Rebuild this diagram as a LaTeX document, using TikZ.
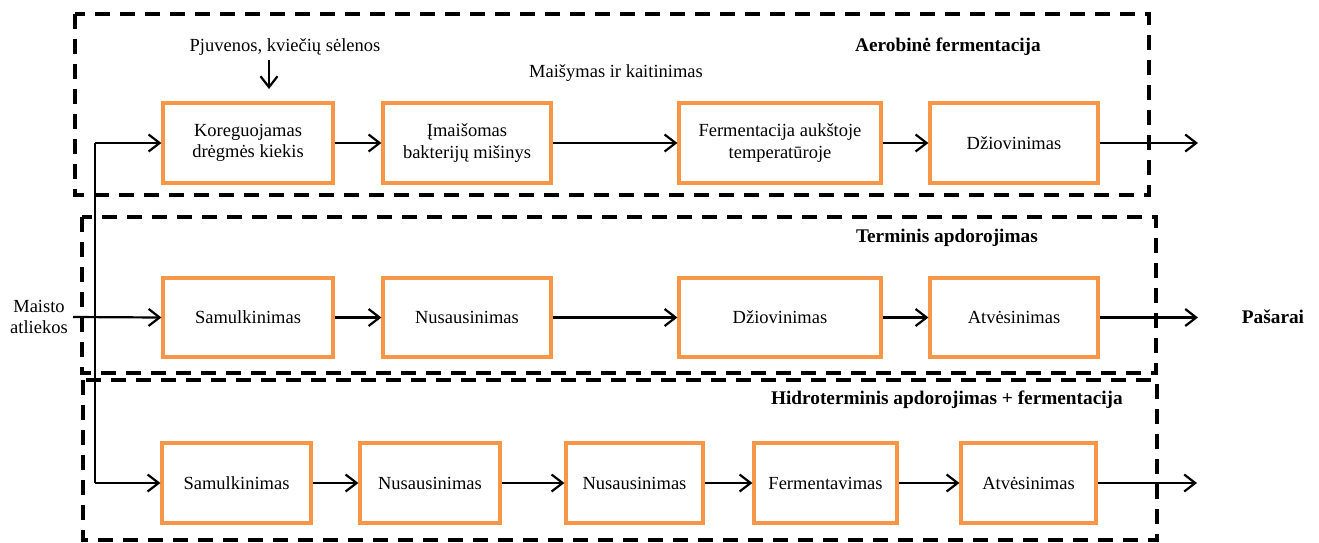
\documentclass[tikz,border=0pt]{standalone}
\usepackage{fontspec}
\setmainfont{Liberation Serif}
\usetikzlibrary{arrows.meta}

\definecolor{boxorange}{HTML}{F79646}

\begin{document}
\begin{tikzpicture}[x=1pt,y=-1pt,
  font=\fontsize{18.5}{21.5}\selectfont,
  proc/.style={draw=boxorange, line width=3.2pt, minimum height=80pt,
    inner sep=0pt, align=center, fill=white},
  stage/.style={draw=black, line width=3.5pt, dash pattern=on 15pt off 10pt},
  title/.style={font=\fontsize{19.3}{22}\selectfont\bfseries, anchor=east, inner sep=0pt},
  flow/.style={line width=2.2pt, -{Straight Barb[length=11pt,width=17pt,line width=2.2pt]}},
  plain/.style={line width=2.2pt}
]
\useasboundingbox (0,0) rectangle (1319,542);

% stage frames
\draw[stage] (75,14) rectangle (1149,195);
\draw[stage] (82,217) rectangle (1156,373);
\draw[stage] (83,380) rectangle (1157,540);

% stage titles
\node[title] (tA) at (1041,47) {Aerobinė fermentacija};
\node[title] (tT) at (1038,238) {Terminis apdorojimas};
\node[title] (tH) at (1123,400) {Hidroterminis apdorojimas + fermentacija};

% aerobic fermentation line
\node[proc, minimum width=170pt] (a1) at (248,143) {Koreguojamas\\drėgmės kiekis};
\node[proc, minimum width=168pt] (a2) at (467,143) {Įmaišomas\\bakterijų mišinys};
\node[proc, minimum width=202pt] (a3) at (780,143) {Fermentacija aukštoje\\temperatūroje};
\node[proc, minimum width=168pt] (a4) at (1014,143) {Džiovinimas};

% thermal processing line
\node[proc, minimum width=170pt, minimum height=79pt] (t1) at (248,317.5) {Samulkinimas};
\node[proc, minimum width=168pt, minimum height=79pt] (t2) at (467,317.5) {Nusausinimas};
\node[proc, minimum width=202pt, minimum height=79pt] (t3) at (780,317.5) {Džiovinimas};
\node[proc, minimum width=168pt, minimum height=79pt] (t4) at (1014,317.5) {Atvėsinimas};

% hydrothermal processing + fermentation line
\node[proc, minimum width=149pt] (h1) at (236.5,483) {Samulkinimas};
\node[proc, minimum width=140pt] (h2) at (430,483) {Nusausinimas};
\node[proc, minimum width=137pt] (h3) at (634.5,483) {Nusausinimas};
\node[proc, minimum width=143pt] (h4) at (825.5,483) {Fermentavimas};
\node[proc, minimum width=135pt] (h5) at (1028.5,483) {Atvėsinimas};

% side inputs and labels
\node[align=center, inner sep=0pt] (src) at (39,317) {Maisto\\atliekos};
\node[inner sep=0pt] (add) at (285,47) {Pjuvenos, kviečių sėlenos};
\node[inner sep=0pt] (mix) at (616,73) {Maišymas ir kaitinimas};
\node[font=\fontsize{19.3}{22}\selectfont\bfseries, inner sep=0pt] (feed) at (1273,317) {Pašarai};

% free ends
\coordinate (split) at (95,143);
\coordinate (addTop) at (269,60);
\coordinate (addEnd) at (269,89);
\coordinate (srcStart) at (73,317);
\coordinate (outA) at (1198,143);
\coordinate (outT) at (1198,317.5);
\coordinate (outH) at (1197,483);

% connectors
\draw[flow] (addTop) -- (addEnd);
\draw[plain] (split) -- (split |- h1.west);
\draw[flow] (split) -- (a1.west);
\draw[flow] (split |- h1.west) -- (h1.west);
\draw[flow] (srcStart) -- (t1.west);

\draw[flow] (a1) -- (a2);
\draw[flow] (a2) -- (a3);
\draw[flow] (a3) -- (a4);
\draw[flow] (a4) -- (outA);

\draw[flow] (t1) -- (t2);
\draw[flow] (t2) -- (t3);
\draw[flow] (t3) -- (t4);
\draw[flow] (t4) -- (outT);

\draw[flow] (h1) -- (h2);
\draw[flow] (h2) -- (h3);
\draw[flow] (h3) -- (h4);
\draw[flow] (h4) -- (h5);
\draw[flow] (h5) -- (outH);
\end{tikzpicture}
\end{document}
